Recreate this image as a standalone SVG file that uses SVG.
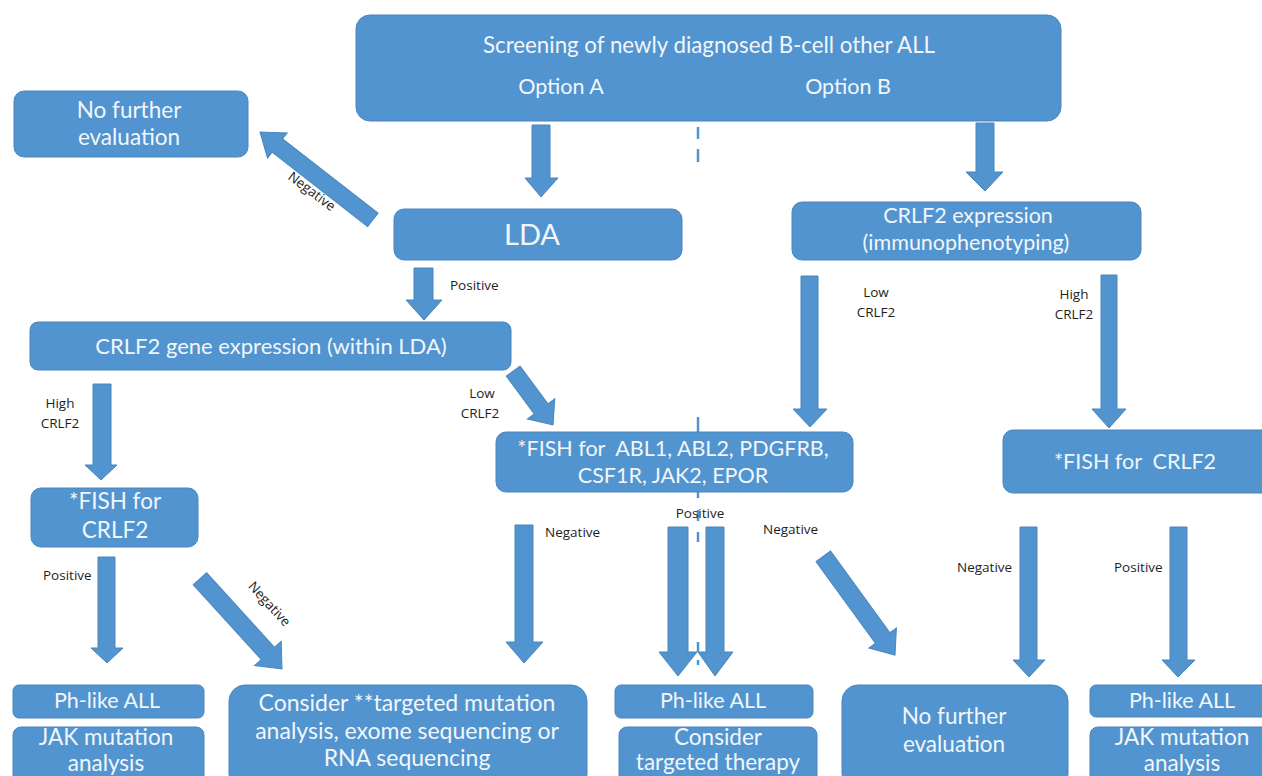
<svg xmlns="http://www.w3.org/2000/svg" width="1262" height="776" viewBox="0 0 1262 776">
<style>
.box{fill:#5194cf;stroke:#4a86bd;stroke-width:1}
.arr{fill:#5194cf;stroke:#4a86bd;stroke-width:1}
.t{font-family:Lato,"Open Sans",sans-serif;fill:#f2f6fb;text-anchor:middle;font-size:21.5px}
.l{font-size:22.5px}
.s{font-family:"Open Sans",Lato,sans-serif;fill:#1e1e1e;font-size:13.5px}
.sc{text-anchor:middle}
.dash{stroke:#5194cf;stroke-width:2.5}
</style>
<rect width="1262" height="776" fill="#fff"/>
<g id="divider">
<line class="dash" x1="698" y1="127" x2="698" y2="139"/>
<line class="dash" x1="698" y1="149" x2="698" y2="162"/>
<line class="dash" x1="698" y1="417" x2="698" y2="432"/>
<line class="dash" x1="698" y1="492" x2="698" y2="498"/>
<line class="dash" x1="698" y1="510" x2="698" y2="521"/>
<line class="dash" x1="698" y1="532" x2="698" y2="542"/>
<line class="dash" x1="698" y1="642" x2="698" y2="652"/>
<line class="dash" x1="698" y1="660" x2="698" y2="665"/>
</g>
<g id="connectors">
<polygon class="arr" points="532,125 550,125 550,178 558,178 541,197 525,178 532,178"/>
<polygon class="arr" points="414,268 433,268 433,300 442,300 424,320 406,300 414,300"/>
<polygon class="arr" points="976,123 994,123 994,172 1003,172 985,191 966,172 976,172"/>
<polygon class="arr" points="801,276 818,276 818,409 827,409 810,427 793,409 801,409"/>
<polygon class="arr" points="1101,275 1117,275 1117,409 1126,409 1109,428 1092,409 1101,409"/>
<polygon class="arr" points="93,384 111,384 111,465 117,465 101,480 85,465 93,465"/>
<polygon class="arr" points="98,557 115,557 115,648 123,648 107,663 91,648 98,648"/>
<polygon class="arr" points="515,525 533,525 533,642 543,642 524,663 506,642 515,642"/>
<polygon class="arr" points="668,527 688,527 688,652 697,652 678,676 659,652 668,652"/>
<polygon class="arr" points="706,527 724,527 724,652 733,652 715,676 698,652 706,652"/>
<polygon class="arr" points="1020,527 1037,527 1037,660 1045,660 1029,677 1013,660 1020,660"/>
<polygon class="arr" points="1170,527 1187,527 1187,660 1195,660 1178,677 1162,660 1170,660"/>
<path class="arr" transform="translate(260,132) rotate(217.9)" d="M-143,-8.5 H-22 V-16 L0,0 L-22,16 V8.5 H-143 Z"/>
<path class="arr" transform="translate(553,425) rotate(53.5)" d="M-67,-8.5 H-20 V-17 L0,0 L-20,17 V8.5 H-67 Z"/>
<path class="arr" transform="translate(282,669) rotate(47.7)" d="M-122,-9 H-21 V-18 L0,0 L-21,18 V9 H-122 Z"/>
<path class="arr" transform="translate(895,655) rotate(54)" d="M-122,-9 H-21 V-17 L0,0 L-21,17 V9 H-122 Z"/>
<text class="s sc" transform="translate(309,195) rotate(37)">Negative</text>
<text class="s" x="450" y="290">Positive</text>
<text class="s sc" x="876" y="297">Low</text>
<text class="s sc" x="876" y="317">CRLF2</text>
<text class="s sc" x="1074" y="299">High</text>
<text class="s sc" x="1074" y="319">CRLF2</text>
<text class="s sc" x="60" y="408">High</text>
<text class="s sc" x="60" y="428">CRLF2</text>
<text class="s sc" x="482" y="398">Low</text>
<text class="s sc" x="480" y="418">CRLF2</text>
<text class="s" x="43" y="580">Positive</text>
<text class="s sc" transform="translate(266,607) rotate(47.5)">Negative</text>
<text class="s" x="545" y="537">Negative</text>
<text class="s sc" x="700" y="518">Positive</text>
<text class="s" x="763" y="534">Negative</text>
<text class="s" x="957" y="572">Negative</text>
<text class="s" x="1114" y="572">Positive</text>
</g>
<g id="n-screening">
<rect class="box" x="356" y="15" width="705" height="106" rx="14"/>
<text class="t" x="709" y="53" style="font-size:22.3px">Screening of newly diagnosed B-cell other ALL</text>
<text class="t" x="561" y="94">Option A</text>
<text class="t" x="848" y="94">Option B</text>
</g>
<g id="n-nofurther-top">
<rect class="box" x="14" y="91" width="234" height="66" rx="10"/>
<text class="t l" x="129" y="118">No further</text>
<text class="t l" x="129" y="145">evaluation</text>
</g>
<g id="n-lda">
<rect class="box" x="394" y="209" width="288" height="51" rx="10"/>
<text class="t" x="532" y="245" style="font-size:29px">LDA</text>
</g>
<g id="n-crlf2-expr">
<rect class="box" x="792" y="202" width="349" height="58" rx="10"/>
<text class="t" x="968" y="223">CRLF2 expression</text>
<text class="t" x="966" y="250">(immunophenotyping)</text>
</g>
<g id="n-crlf2-gene">
<rect class="box" x="30" y="322" width="481" height="48" rx="8"/>
<text class="t" x="271" y="354" style="font-size:22px">CRLF2 gene expression (within LDA)</text>
</g>
<g id="n-fish-abl">
<rect class="box" x="496" y="432" width="357" height="60" rx="10"/>
<text class="t" x="673" y="456" xml:space="preserve">*FISH for  ABL1, ABL2, PDGFRB,</text>
<text class="t" x="673" y="483">CSF1R, JAK2, EPOR</text>
</g>
<g id="n-fish-crlf2-right">
<rect class="box" x="1003" y="430" width="272" height="63" rx="10"/>
<text class="t" x="1135" y="469" xml:space="preserve">*FISH for  CRLF2</text>
</g>
<g id="n-fish-crlf2-left">
<rect class="box" x="31" y="488" width="167" height="59" rx="10"/>
<text class="t l" x="115" y="509">*FISH for</text>
<text class="t l" x="115" y="538">CRLF2</text>
</g>
<g id="n-phlike-left">
<rect class="box" x="13" y="685" width="191" height="33" rx="6"/>
<text class="t" x="107" y="708">Ph-like ALL</text>
</g>
<g id="n-jak-left">
<rect class="box" x="13" y="727" width="191" height="58" rx="8"/>
<text class="t l" x="106" y="745">JAK mutation</text>
<text class="t l" x="106" y="771">analysis</text>
</g>
<g id="n-consider-mut">
<rect class="box" x="229" y="685" width="358" height="105" rx="16"/>
<text class="t" x="407" y="711" style="font-size:23px">Consider **targeted mutation</text>
<text class="t" x="407" y="739" style="font-size:23px">analysis, exome sequencing or</text>
<text class="t" x="407" y="766" style="font-size:23px">RNA sequencing</text>
</g>
<g id="n-phlike-mid">
<rect class="box" x="615" y="685" width="198" height="33" rx="6"/>
<text class="t" x="713" y="708">Ph-like ALL</text>
</g>
<g id="n-consider-therapy">
<rect class="box" x="619" y="727" width="198" height="58" rx="8"/>
<text class="t l" x="718" y="745">Consider</text>
<text class="t l" x="718" y="770">targeted therapy</text>
</g>
<g id="n-nofurther-bottom">
<rect class="box" x="842" y="685" width="226" height="105" rx="16"/>
<text class="t l" x="954" y="724">No further</text>
<text class="t l" x="954" y="752">evaluation</text>
</g>
<g id="n-phlike-right">
<rect class="box" x="1090" y="685" width="180" height="32" rx="6"/>
<text class="t" x="1182" y="708">Ph-like ALL</text>
</g>
<g id="n-jak-right">
<rect class="box" x="1090" y="727" width="180" height="58" rx="8"/>
<text class="t l" x="1182" y="745">JAK mutation</text>
<text class="t l" x="1182" y="771">analysis</text>
</g>
</svg>
